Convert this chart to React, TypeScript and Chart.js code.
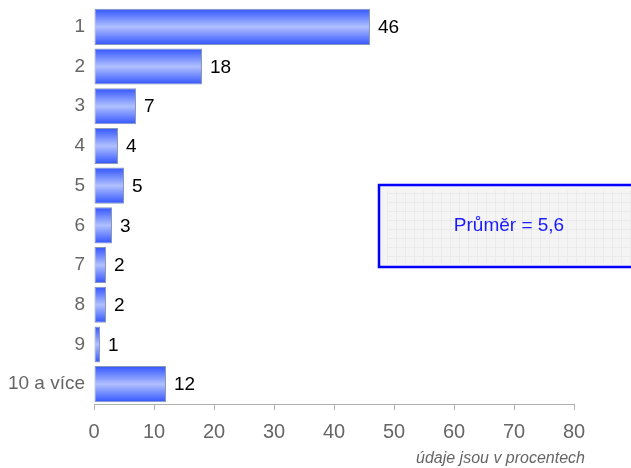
import React, { useEffect, useRef } from "react";
import { Chart, registerables } from "chart.js";
Chart.register(...registerables);

const categories = ["1", "2", "3", "4", "5", "6", "7", "8", "9", "10 a více"];
const values = [46, 18, 7, 4, 5, 3, 2, 2, 1, 12];
const xTicks = [0, 10, 20, 30, 40, 50, 60, 70, 80];
const averageText = "Průměr = 5,6";
const axisNote = "údaje jsou v procentech";

const FONT = "'Liberation Sans', Arial, sans-serif";

const overlayPlugin = {
  id: "overlay",
  afterDatasetsDraw(chart: any) {
    const ctx = chart.ctx;
    const meta = chart.getDatasetMeta(0);
    ctx.save();
    ctx.font = `19px ${FONT}`;
    ctx.fillStyle = "#000";
    ctx.textAlign = "left";
    ctx.textBaseline = "middle";
    meta.data.forEach((bar: any, i: number) => {
      ctx.fillText(String(values[i]), bar.x + 8, bar.y + 1);
    });
    ctx.restore();
  },
  afterDraw(chart: any) {
    const ctx = chart.ctx;
    ctx.save();
    const bx = 379, by = 185, bw = 270, bh = 82;
    ctx.fillStyle = "#f4f4f4";
    ctx.fillRect(bx, by, bw, bh);
    ctx.strokeStyle = "rgba(228,228,228,0.6)";
    ctx.lineWidth = 1;
    for (let x = bx + 8; x < bx + bw; x += 9) {
      ctx.beginPath();
      ctx.moveTo(x + 0.5, by + 6);
      ctx.lineTo(x + 0.5, by + bh - 4);
      ctx.stroke();
    }
    for (let y = by + 8; y < by + bh - 3; y += 9) {
      ctx.beginPath();
      ctx.moveTo(bx + 8, y + 0.5);
      ctx.lineTo(bx + bw, y + 0.5);
      ctx.stroke();
    }
    ctx.strokeStyle = "#0000ff";
    ctx.lineWidth = 2.5;
    ctx.strokeRect(bx, by, bw, bh);
    ctx.fillStyle = "#1a1aff";
    ctx.font = `19px ${FONT}`;
    ctx.textAlign = "center";
    ctx.textBaseline = "middle";
    ctx.fillText(averageText, 509, 226);
    ctx.fillStyle = "#666";
    ctx.font = `italic 16px ${FONT}`;
    ctx.textAlign = "right";
    ctx.textBaseline = "middle";
    ctx.fillText(axisNote, 585, 459);
    ctx.restore();
  },
};

export default function App() {
  const ref = useRef<HTMLCanvasElement>(null);
  useEffect(() => {
    if (!ref.current) return;
    const chart = new Chart(ref.current, {
      type: "bar",
      data: {
        labels: categories,
        datasets: [
          {
            data: values,
            backgroundColor: (c: any) => {
              const ch = c.chart;
              const ys = ch.scales?.y;
              if (!ys || c.dataIndex === undefined) return "#6f8cff";
              const cy = ys.getPixelForValue(c.dataIndex);
              if (!Number.isFinite(cy)) return "#6f8cff";
              const g = ch.ctx.createLinearGradient(0, cy - 18, 0, cy + 18);
              g.addColorStop(0, "#3355ff");
              g.addColorStop(0.5, "#b0c0ff");
              g.addColorStop(1, "#3355ff");
              return g;
            },
            borderColor: "#8a98b8",
            borderWidth: 1,
            borderSkipped: false,
            barPercentage: 0.91,
            categoryPercentage: 1,
          },
        ],
      },
      options: {
        indexAxis: "y",
        animation: false,
        responsive: true,
        maintainAspectRatio: false,
        layout: { padding: { top: 7, right: 57, left: 0, bottom: 0 } },
        plugins: { legend: { display: false }, tooltip: { enabled: false } },
        scales: {
          x: {
            min: 0,
            max: 80,
            afterBuildTicks: (s: any) => {
              s.ticks = xTicks.map((v) => ({ value: v }));
            },
            afterFit: (s: any) => {
              s.height = 64;
            },
            grid: {
              display: true,
              drawOnChartArea: false,
              drawTicks: true,
              tickLength: 6,
              color: "#b0b0b0",
            },
            border: { display: true, color: "#b0b0b0" },
            ticks: {
              color: "#666",
              font: { family: FONT, size: 20 },
              padding: 10,
              maxRotation: 0,
            },
          },
          y: {
            afterFit: (s: any) => {
              s.width = 94;
              s.paddingTop = 0;
              s.paddingBottom = 0;
            },
            grid: { display: false, drawTicks: false },
            border: { display: false },
            ticks: {
              color: "#666",
              font: { family: FONT, size: 19 },
              padding: 9,
            },
          },
        },
      },
      plugins: [overlayPlugin],
    } as any);
    chart.update();
    return () => chart.destroy();
  }, []);
  return (
    <div style={{ position: "absolute", left: 0, top: 0, width: 631, height: 468, background: "#fff" }}>
      <canvas ref={ref} />
    </div>
  );
}
